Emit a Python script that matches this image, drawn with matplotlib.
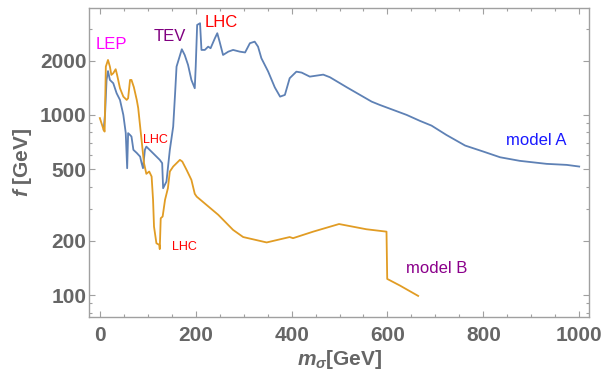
import matplotlib

matplotlib.use("Agg")
import matplotlib.pyplot as plt

# model A (blue) and model B (orange): mass in GeV, bound f in GeV
m_a = [8, 11, 14, 17, 21, 28, 35, 42, 49, 54, 57, 59, 63, 66, 70, 77, 84, 87, 90,
       94, 97, 111, 125, 130, 132, 139, 146, 153, 157, 160, 171, 177, 184, 191,
       198, 200, 203, 209, 212, 219, 226, 231, 240, 245, 250, 257, 268, 278, 292,
       303, 313, 323, 330, 337, 351, 365, 376, 386, 396, 410, 421, 438, 466, 480,
       515, 567, 584, 640, 668, 692, 723, 762, 800, 835, 876, 932, 974, 1000]
f_a = [830, 1026, 1563, 1750, 1563, 1499, 1319, 1211, 1000, 795, 506, 792, 774,
       758, 640, 615, 587, 542, 506, 640, 667, 613, 563, 540, 392, 427, 640, 861,
       1319, 1853, 2314, 2151, 1894, 1563, 1406, 1853, 3157, 3226, 2294, 2294,
       2392, 2344, 2663, 2840, 2540, 2151, 2244, 2294, 2244, 2221, 2499, 2550,
       2392, 2063, 1743, 1421, 1263, 1291, 1598, 1738, 1717, 1631, 1673, 1618,
       1424, 1185, 1136, 1000, 926, 872, 774, 676, 626, 582, 556, 535, 528, 517]

m_b = [0, 8, 10, 12.5, 17, 21, 24, 28, 33, 36, 42, 49, 56, 59, 63, 66, 71, 77,
       80, 87, 92, 97, 103, 108, 111, 113, 118, 124, 125, 127, 131, 136, 142,
       146, 153, 167, 172, 181, 191, 198, 202, 247, 278, 299, 348, 396, 403, 445,
       499, 556, 598, 599.5, 626, 664]
f_b = [960, 825, 808, 1853, 2018, 1853, 1667, 1703, 1793, 1667, 1406, 1263, 1211,
       1238, 1563, 1563, 1424, 1211, 1093, 727, 542, 471, 485, 455, 338, 240,
       194, 190, 180, 267, 273, 338, 392, 485, 517, 563, 551, 495, 436, 365, 352,
       279, 230, 210, 196, 210, 207, 225, 248, 232, 225, 123, 113, 99]

# text labels: (text, m, f, colour, size)
labels = [
    ("LEP", 25, 2445, "#ff00ff", 12),
    ("TEV", 146, 2708, "#800080", 12),
    ("LHC", 254, 3236, "#ff0000", 12),
    ("LHC", 117, 727, "#ff0000", 9),
    ("LHC", 177, 185, "#ff0000", 9),
    ("model A", 910, 717, "#1a1aff", 12),
    ("model B", 703, 140, "#8b008b", 12),
]

plt.rcParams["font.family"] = ["Liberation Sans", "DejaVu Sans"]
plt.rcParams["mathtext.fontset"] = "custom"
plt.rcParams["mathtext.it"] = "Liberation Sans:italic:bold"
plt.rcParams["mathtext.rm"] = "Liberation Sans:bold"
plt.rcParams["mathtext.bf"] = "Liberation Sans:bold"

GRAY = "#666666"

fig = plt.figure(figsize=(6.05, 3.76), dpi=100)
ax = fig.add_axes([0.1476, 0.158, 0.8264, 0.820])

ax.plot(m_a, f_a, color="#5e81b5", lw=1.3)
ax.plot(m_b, f_b, color="#e19c24", lw=1.3)

for txt, mx, fy, col, size in labels:
    ax.text(mx, fy, txt, color=col, fontsize=size, ha="center", va="center")

ax.set_yscale("log")
ax.set_xlim(-22, 1021)
ax.set_ylim(76, 3906)

ax.set_xticks([0, 200, 400, 600, 800, 1000])
ax.set_xticks(range(50, 1000, 50), minor=True)
ax.set_yticks([100, 200, 500, 1000, 2000])
ax.set_yticklabels(["100", "200", "500", "1000", "2000"])
ax.set_yticks([80, 90, 300, 400, 600, 700, 800, 900, 3000], minor=True)
ax.yaxis.set_minor_formatter(matplotlib.ticker.NullFormatter())

for s in ax.spines.values():
    s.set_color("#a0a0a0")
    s.set_linewidth(1.0)

ax.tick_params(which="both", direction="in", top=True, right=True,
               color="#a0a0a0", width=0.8, labelcolor=GRAY, labelsize=15)
ax.tick_params(which="major", length=4)
ax.tick_params(which="minor", length=2.5)
ax.tick_params(axis="x", pad=7)
ax.tick_params(axis="y", pad=2)
for lab in ax.get_xticklabels() + ax.get_yticklabels():
    lab.set_fontweight("bold")

ax.set_xlabel(r"$m_{\sigma}$[GeV]", fontsize=15, fontweight="bold", color=GRAY, labelpad=2)
ax.set_ylabel(r"$f$ [GeV]", fontsize=15, fontweight="bold", color=GRAY, labelpad=4)

fig.savefig("out.png", dpi=100)
